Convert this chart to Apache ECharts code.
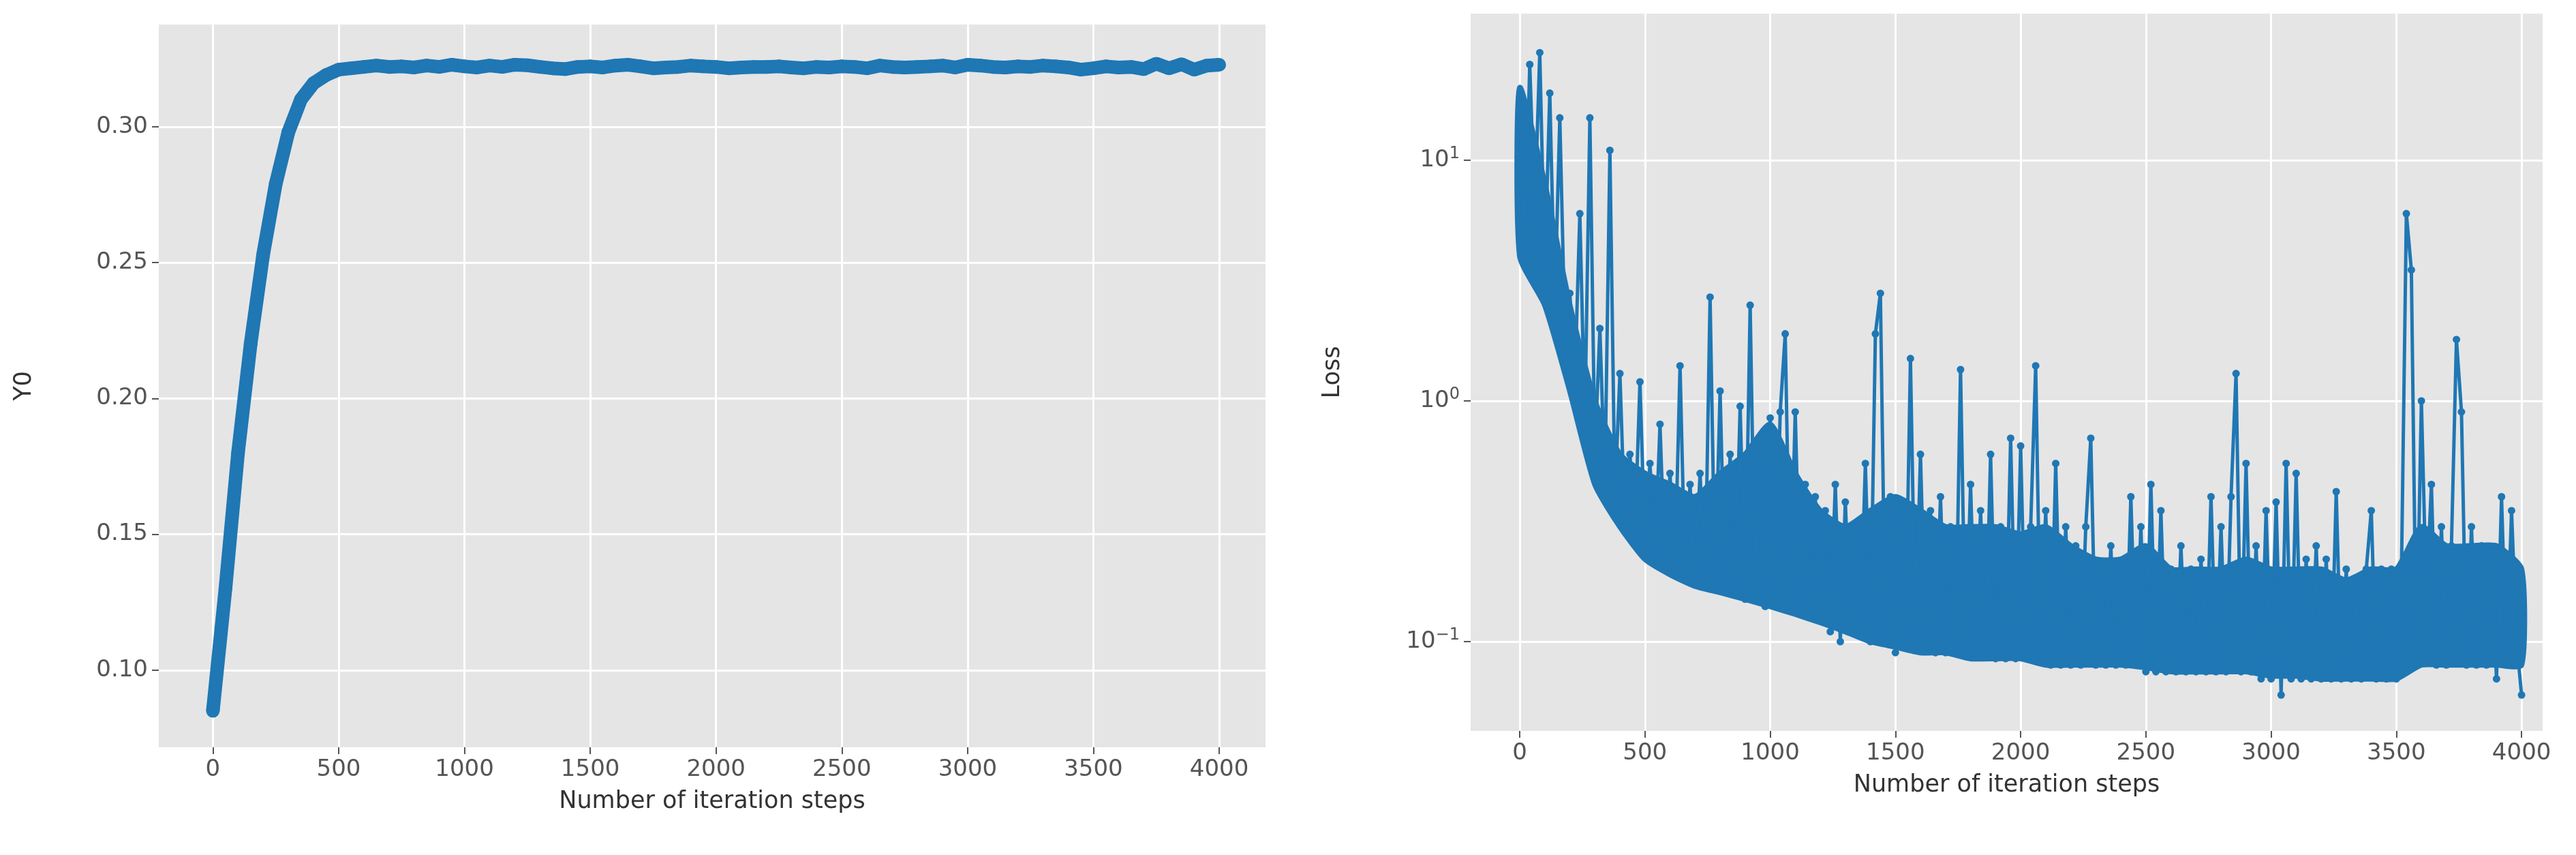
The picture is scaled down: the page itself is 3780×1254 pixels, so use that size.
<!DOCTYPE html>
<html>
<head>
<meta charset="utf-8">
<title>Y0 and Loss</title>
<script src="https://cdn.jsdelivr.net/npm/echarts@6/dist/echarts.min.js"></script>
</head>
<body style="margin:0;background:#fff">
<div id="chart" style="width:3780px;height:1254px"></div>
<script type="text/javascript">
// Y0 every 50 steps, 0..4000
var y0Step = 50;
var y0Values = [
  0.085, 0.13, 0.18, 0.22, 0.253, 0.279, 0.298, 0.310, 0.316, 0.319,
  0.321, 0.3215, 0.322, 0.3225, 0.322, 0.3222, 0.3218, 0.3225, 0.322, 0.3228,
  0.3222, 0.3218, 0.3225, 0.322, 0.3228, 0.3226, 0.322, 0.3215, 0.3212, 0.322,
  0.3222, 0.3218, 0.3225, 0.3228, 0.3222, 0.3215, 0.3218, 0.322, 0.3225, 0.3222,
  0.322, 0.3215, 0.3218, 0.322, 0.322, 0.3222, 0.3218, 0.3215, 0.322, 0.3218,
  0.3222, 0.322, 0.3215, 0.3225, 0.322, 0.3218, 0.322, 0.3222, 0.3225, 0.3218,
  0.3228, 0.3225, 0.322, 0.3218, 0.3222, 0.322, 0.3225, 0.3222, 0.3218, 0.321,
  0.3215, 0.3222, 0.3218, 0.322, 0.3212, 0.3232, 0.3215, 0.323, 0.321, 0.3225,
  0.3228
];
// Loss every 20 steps, 0..4000 (spikes and scatter)
var lossStep = 20;
var lossValues = [
  18, 4, 25, 6, 28, 3.5, 19, 2.5, 15, 2,
  2.8, 1.2, 6, 0.8, 15, 0.6, 2, 0.45, 11, 0.4,
  1.3, 0.3, 0.6, 0.28, 1.2, 0.25, 0.55, 0.22, 0.8, 0.2,
  0.5, 0.2, 1.4, 0.19, 0.45, 0.18, 0.5, 0.17, 2.7, 0.17,
  1.1, 0.16, 0.6, 0.16, 0.95, 0.15, 2.5, 0.15, 0.5, 0.14,
  0.85, 0.14, 0.9, 1.9, 0.14, 0.9, 0.14, 0.45, 0.13, 0.4,
  0.13, 0.35, 0.11, 0.45, 0.1, 0.38, 0.12, 0.3, 0.11, 0.55,
  0.1, 1.9, 2.8, 0.1, 0.4, 0.09, 0.35, 0.1, 1.5, 0.1,
  0.6, 0.1, 0.35, 0.09, 0.4, 0.09, 0.3, 0.09, 1.35, 0.09,
  0.45, 0.09, 0.35, 0.09, 0.6, 0.085, 0.3, 0.085, 0.7, 0.085,
  0.65, 0.085, 0.3, 1.4, 0.085, 0.35, 0.08, 0.55, 0.08, 0.3,
  0.08, 0.25, 0.08, 0.3, 0.7, 0.08, 0.2, 0.08, 0.25, 0.08,
  0.2, 0.08, 0.4, 0.08, 0.3, 0.075, 0.45, 0.075, 0.35, 0.075,
  0.2, 0.075, 0.25, 0.075, 0.2, 0.075, 0.22, 0.075, 0.4, 0.075,
  0.3, 0.075, 0.4, 1.3, 0.075, 0.55, 0.075, 0.25, 0.07, 0.35,
  0.07, 0.38, 0.06, 0.55, 0.07, 0.5, 0.07, 0.22, 0.07, 0.25,
  0.07, 0.22, 0.07, 0.42, 0.07, 0.2, 0.07, 0.18, 0.07, 0.2,
  0.35, 0.07, 0.2, 0.07, 0.2, 0.07, 0.18, 6, 3.5, 0.08,
  1.0, 0.15, 0.45, 0.08, 0.3, 0.08, 0.25, 1.8, 0.9, 0.08,
  0.3, 0.08, 0.25, 0.08, 0.2, 0.07, 0.4, 0.08, 0.35, 0.1,
  0.06
];
// dense loss band, every 100 steps, 0..4000
var bandStep = 100;
var bandLow = [
  4, 2.5, 1.1, 0.45, 0.3, 0.22, 0.19, 0.17, 0.16, 0.15,
  0.14, 0.13, 0.12, 0.11, 0.1, 0.095, 0.09, 0.09, 0.085, 0.085,
  0.085, 0.08, 0.08, 0.08, 0.08, 0.078, 0.075, 0.075, 0.075, 0.075,
  0.072, 0.072, 0.07, 0.07, 0.07, 0.07, 0.08, 0.08, 0.08, 0.08,
  0.08
];
var bandHigh = [
  20, 8, 2.5, 1, 0.6, 0.5, 0.45, 0.4, 0.5, 0.6,
  0.8, 0.5, 0.35, 0.3, 0.35, 0.4, 0.35, 0.3, 0.3, 0.3,
  0.28, 0.3, 0.25, 0.22, 0.22, 0.25, 0.2, 0.2, 0.2, 0.22,
  0.2, 0.2, 0.2, 0.18, 0.2, 0.2, 0.3, 0.25, 0.25, 0.25,
  0.2
];
var xTicks = [0, 500, 1000, 1500, 2000, 2500, 3000, 3500, 4000];
var y0Ticks = [0.10, 0.15, 0.20, 0.25, 0.30];
var lossTickExp = [-1, 0, 1];

var blue = '#1f77b4';
var font = 'DejaVu Sans';

// right plot draws log10(loss) on a value axis
var y0Data = y0Values.map(function (v, i) { return [i * y0Step, v]; });
var lossData = lossValues.map(function (v, i) { return [i * lossStep, Math.log10(v)]; });

function renderBand(params, api) {
  var pts = [];
  var i;
  for (i = 0; i < bandLow.length; i++) pts.push(api.coord([i * bandStep, Math.log10(bandLow[i])]));
  for (i = bandHigh.length - 1; i >= 0; i--) pts.push(api.coord([i * bandStep, Math.log10(bandHigh[i])]));
  return {
    type: 'polygon', shape: { points: pts, smooth: 0.2 },
    style: { fill: blue, stroke: blue, lineWidth: 8, lineJoin: 'round' }
  };
}

function xAxis(idx, min, max) {
  return {
    type: 'value', gridIndex: idx, min: min, max: max, interval: 500,
    name: 'Number of iteration steps', nameLocation: 'middle', nameGap: 62,
    nameTextStyle: { fontFamily: font, fontSize: 35, color: '#333' },
    axisLine: { show: false, onZero: false },
    axisTick: { show: true, inside: false, length: 10, lineStyle: { color: '#555', width: 2 },
      customValues: xTicks },
    axisLabel: { fontFamily: font, fontSize: 34, color: '#555', margin: 16,
      customValues: xTicks, formatter: function (v) { return String(v); } },
    splitLine: { lineStyle: { color: '#fff', width: 3 } }
  };
}

var option = {
  animation: false,
  grid: [
    { left: 233, width: 1624, top: 36, height: 1060, backgroundColor: '#e5e5e5', show: true, borderWidth: 0 },
    { left: 2158, width: 1573, top: 20, height: 1052, backgroundColor: '#e5e5e5', show: true, borderWidth: 0 }
  ],
  xAxis: [xAxis(0, -215, 4184), xAxis(1, -196, 4084)],
  yAxis: [
    {
      type: 'value', gridIndex: 0, min: 0.0716, max: 0.3376,
      name: 'Y0', nameLocation: 'middle', nameGap: 180,
      nameTextStyle: { fontFamily: font, fontSize: 35, color: '#333' },
      axisLine: { show: false, onZero: false },
      axisTick: { show: true, inside: false, length: 10, lineStyle: { color: '#555', width: 2 }, customValues: y0Ticks },
      axisLabel: { fontFamily: font, fontSize: 34, color: '#555', margin: 16, customValues: y0Ticks,
        formatter: function (v) { return v.toFixed(2); } },
      splitLine: { lineStyle: { color: '#fff', width: 3 } }
    },
    {
      type: 'value', gridIndex: 1, min: -1.371, max: 1.609,
      name: 'Loss', nameLocation: 'middle', nameGap: 185,
      nameTextStyle: { fontFamily: font, fontSize: 35, color: '#333' },
      axisLine: { show: false, onZero: false },
      axisTick: { show: true, inside: false, length: 10, lineStyle: { color: '#555', width: 2 }, customValues: lossTickExp },
      axisLabel: { fontFamily: font, fontSize: 34, color: '#555', margin: 16, customValues: lossTickExp,
        formatter: function (v) { var e = Math.round(v); return '10{s|' + (e < 0 ? '\u2212' + (-e) : e) + '}'; },
        rich: { s: { fontFamily: font, fontSize: 24, color: '#555', verticalAlign: 'top', padding: [0, 0, 18, 0] } } },
      splitLine: { lineStyle: { color: '#fff', width: 3 } }
    }
  ],
  series: [
    {
      type: 'line', xAxisIndex: 0, yAxisIndex: 0, data: y0Data,
      lineStyle: { color: blue, width: 20 }, symbol: 'circle', symbolSize: 20,
      itemStyle: { color: blue }
    },
    {
      type: 'custom', xAxisIndex: 1, yAxisIndex: 1, data: [[0, 0]],
      renderItem: renderBand, clip: true, z: 2
    },
    {
      type: 'line', xAxisIndex: 1, yAxisIndex: 1, data: lossData, z: 3,
      lineStyle: { color: blue, width: 5 }, symbol: 'circle', symbolSize: 11,
      itemStyle: { color: blue }
    }
  ]
};

var myChart = echarts.init(document.getElementById('chart'));
myChart.setOption(option);
</script>
</body>
</html>
